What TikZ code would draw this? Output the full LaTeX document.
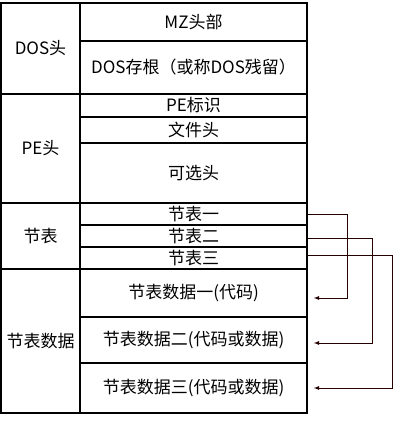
\documentclass[tikz,border=0pt]{standalone}
\usepackage{fontspec}
\newfontfamily\cjk{Noto Sans CJK SC}
\begin{document}
\begin{tikzpicture}[x=1pt,y=-1pt]
% Styles
\tikzstyle{cadre}=[draw,line width=1.6pt,inner sep=0pt,font=\cjk\fontsize{17}{20}\selectfont]
\tikzstyle{fleche}=[->,>=latex,line width=0.8pt,black!85!red]
% Dimensions
\def\LrgG{79}
\def\LrgD{227}
\def\xG{40.5}
\def\xD{193.5}
\useasboundingbox (0,0) rectangle (400,422);
% Colonne de gauche
\node[cadre,minimum width=\LrgG,minimum height=91] (dos) at (\xG,48.5) {DOS头};
\node[cadre,minimum width=\LrgG,minimum height=109] (pe) at (\xG,148.5) {PE头};
\node[cadre,minimum width=\LrgG,minimum height=66] (sec) at (\xG,236) {节表};
\node[cadre,minimum width=\LrgG,minimum height=144] (dat) at (\xG,341) {节表数据};
% Colonne de droite
\node[cadre,minimum width=\LrgD,minimum height=38] (mz) at (\xD,22) {MZ头部};
\node[cadre,minimum width=\LrgD,minimum height=53] (stub) at (\xD,67.5) {DOS存根（或称DOS残留）};
\node[cadre,minimum width=\LrgD,minimum height=23] (sig) at (\xD,105.5) {PE标识};
\node[cadre,minimum width=\LrgD,minimum height=26] (fh) at (\xD,130) {文件头};
\node[cadre,minimum width=\LrgD,minimum height=60] (opt) at (\xD,173) {可选头};
\node[cadre,minimum width=\LrgD,minimum height=22] (s1) at (\xD,214) {节表一};
\node[cadre,minimum width=\LrgD,minimum height=22] (s2) at (\xD,236) {节表二};
\node[cadre,minimum width=\LrgD,minimum height=22] (s3) at (\xD,258) {节表三};
\node[cadre,minimum width=\LrgD,minimum height=48] (d1) at (\xD,293) {节表数据一(代码)};
\node[cadre,minimum width=\LrgD,minimum height=46] (d2) at (\xD,340) {节表数据二(代码或数据)};
\node[cadre,minimum width=\LrgD,minimum height=50] (d3) at (\xD,388) {节表数据三(代码或数据)};
% Renvois
\draw[fleche] (s1.east) -- ++(40,0) |- ([shift={(6,5)}]d1.east);
\draw[fleche] ([yshift=-2]s2.east) -- ++(65,0) |- ([shift={(6,3)}]d2.east);
\draw[fleche] ([yshift=3]s3.east) -- ++(85,0) |- ([xshift=6]d3.east);
\end{tikzpicture}
\end{document}
